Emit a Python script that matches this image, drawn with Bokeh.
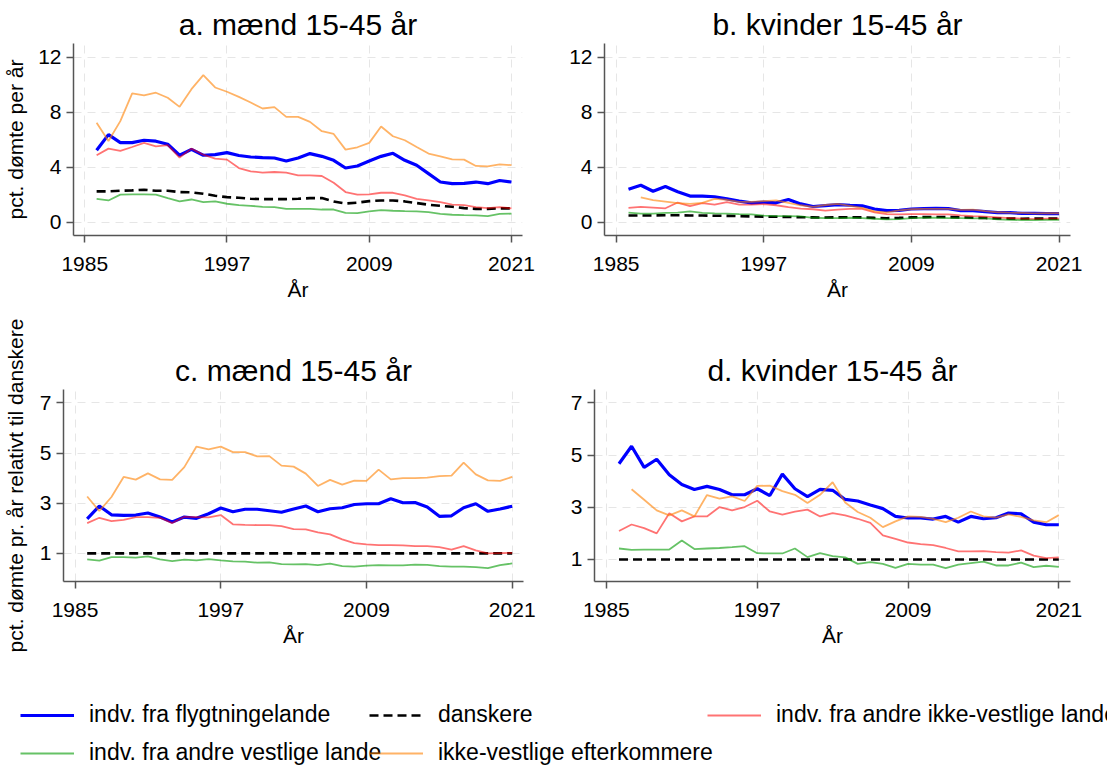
import math
from bokeh.plotting import figure
from bokeh.models import FixedTicker, Legend, LegendItem, Range1d
from bokeh.layouts import column, row
from bokeh.embed import file_html
from bokeh.resources import INLINE

NaN = float("nan")
years = list(range(1986, 2022))
x_ticks = [1985, 1997, 2009, 2021]
y_ticks_abs = [0, 4, 8, 12]
y_ticks_rel = [1, 3, 5, 7]

titles = ["a. mænd 15-45 år", "b. kvinder 15-45 år", "c. mænd 15-45 år", "d. kvinder 15-45 år"]
x_label = "År"
y_label_abs = "pct. dømte per år"
y_label_rel = "pct. dømte pr. år relativt til danskere"

labels = {
    "blue": "indv. fra flygtningelande",
    "black": "danskere",
    "red": "indv. fra andre ikke-vestlige lande",
    "green": "indv. fra andre vestlige lande",
    "orange": "ikke-vestlige efterkommere",
}

# panel a: men, pct convicted per year
a_blue = [5.23, 6.37, 5.79, 5.79, 5.96, 5.89, 5.67, 4.87, 5.30, 4.87, 4.91, 5.06,
          4.85, 4.74, 4.70, 4.67, 4.45, 4.67, 4.99, 4.79, 4.50, 3.94, 4.09, 4.45,
          4.79, 5.01, 4.50, 4.14, 3.53, 2.92, 2.80, 2.82, 2.92, 2.80, 3.03, 2.92]
a_black = [2.24, 2.24, 2.29, 2.31, 2.36, 2.29, 2.29, 2.19, 2.17, 2.07, 1.92, 1.82,
           1.78, 1.70, 1.68, 1.68, 1.68, 1.70, 1.75, 1.75, 1.51, 1.36, 1.42, 1.53,
           1.58, 1.58, 1.51, 1.39, 1.27, 1.19, 1.12, 1.02, 0.97, 0.97, 1.00, 1.00]
a_red = [4.87, 5.35, 5.18, 5.47, 5.77, 5.52, 5.60, 4.70, 5.35, 4.91, 4.62, 4.55,
         3.94, 3.70, 3.60, 3.65, 3.60, 3.40, 3.40, 3.36, 2.87, 2.19, 2.00, 2.02,
         2.14, 2.14, 1.95, 1.70, 1.58, 1.46, 1.27, 1.24, 1.10, 1.02, 1.10, 1.00]
a_green = [1.70, 1.58, 2.00, 2.02, 2.02, 2.00, 1.75, 1.51, 1.65, 1.46, 1.51, 1.34,
           1.24, 1.19, 1.12, 1.09, 0.97, 0.97, 0.97, 0.92, 0.92, 0.68, 0.66, 0.78,
           0.88, 0.83, 0.80, 0.78, 0.73, 0.61, 0.54, 0.51, 0.49, 0.44, 0.60, 0.62]
a_orange = [7.23, 5.91, 7.35, 9.37, 9.22, 9.42, 9.05, 8.39, 9.68, 10.70, 9.80, 9.49,
            9.12, 8.71, 8.27, 8.37, 7.66, 7.66, 7.30, 6.62, 6.42, 5.28, 5.45, 5.77,
            6.96, 6.25, 5.96, 5.47, 4.99, 4.79, 4.57, 4.55, 4.09, 4.06, 4.20, 4.15]

# panel b: women, pct convicted per year
b_blue = [2.40, 2.69, 2.25, 2.59, 2.22, 1.90, 1.90, 1.85, 1.70, 1.53, 1.41, 1.46,
          1.41, 1.65, 1.33, 1.14, 1.21, 1.28, 1.23, 1.19, 0.96, 0.84, 0.86, 0.96,
          0.99, 1.01, 0.99, 0.84, 0.84, 0.77, 0.69, 0.69, 0.64, 0.64, 0.62, 0.62]
b_black = [0.49, 0.49, 0.49, 0.50, 0.50, 0.49, 0.48, 0.47, 0.46, 0.44, 0.42, 0.40,
           0.39, 0.38, 0.36, 0.35, 0.34, 0.35, 0.36, 0.35, 0.31, 0.29, 0.31, 0.35,
           0.37, 0.38, 0.37, 0.35, 0.32, 0.30, 0.27, 0.26, 0.25, 0.26, 0.26, 0.26]
b_red = [1.04, 1.11, 1.06, 1.01, 1.43, 1.16, 1.38, 1.28, 1.46, 1.28, 1.28, 1.31,
         1.23, 1.09, 0.99, 0.94, 0.84, 0.91, 0.96, 0.96, 0.72, 0.59, 0.57, 0.59,
         0.59, 0.57, 0.57, 0.49, 0.44, 0.40, 0.35, 0.30, 0.25, 0.22, 0.25, 0.25]
b_green = [0.69, 0.62, 0.62, 0.67, 0.69, 0.79, 0.67, 0.64, 0.62, 0.59, 0.57, 0.47,
           0.44, 0.44, 0.42, 0.32, 0.30, 0.30, 0.32, 0.30, 0.25, 0.20, 0.22, 0.30,
           0.32, 0.32, 0.30, 0.30, 0.27, 0.27, 0.20, 0.17, 0.15, 0.15, 0.17, 0.17]
b_orange = [NaN, 1.80, 1.60, 1.50, 1.38, 1.33, 1.41, 1.70, 1.63, 1.48, 1.48, 1.53,
            1.58, 1.41, 1.23, 1.11, 1.25, 1.33, 1.19, 1.04, 0.79, 0.72, 0.86, 0.94,
            0.96, 0.96, 0.96, 0.89, 0.91, 0.81, 0.72, 0.69, 0.67, 0.64, 0.65, 0.65]

# panel c: men, relative to danes
c_blue = [2.38, 2.89, 2.54, 2.52, 2.53, 2.61, 2.45, 2.25, 2.45, 2.40, 2.58, 2.81,
          2.66, 2.76, 2.76, 2.70, 2.64, 2.77, 2.89, 2.66, 2.78, 2.82, 2.95, 2.98,
          2.98, 3.18, 3.02, 3.03, 2.85, 2.48, 2.50, 2.82, 2.98, 2.68, 2.77, 2.88]
c_black = [1.0] * 36
c_red = [2.21, 2.42, 2.29, 2.34, 2.45, 2.45, 2.42, 2.21, 2.46, 2.45, 2.44, 2.53,
         2.16, 2.14, 2.13, 2.13, 2.09, 1.97, 1.96, 1.84, 1.76, 1.56, 1.41, 1.36,
         1.33, 1.33, 1.32, 1.29, 1.29, 1.25, 1.15, 1.29, 1.12, 1.00, 1.01, 1.02]
c_green = [0.76, 0.71, 0.85, 0.85, 0.83, 0.88, 0.76, 0.69, 0.75, 0.72, 0.77, 0.72,
           0.68, 0.67, 0.63, 0.64, 0.57, 0.56, 0.57, 0.53, 0.59, 0.49, 0.47, 0.51,
           0.53, 0.52, 0.52, 0.55, 0.54, 0.49, 0.47, 0.47, 0.45, 0.41, 0.53, 0.60]
c_orange = [3.27, 2.69, 3.25, 4.05, 3.94, 4.19, 3.95, 3.93, 4.44, 5.26, 5.15, 5.26,
            5.04, 5.04, 4.87, 4.88, 4.50, 4.46, 4.18, 3.69, 3.93, 3.74, 3.90, 3.89,
            4.34, 3.95, 4.00, 4.00, 4.02, 4.08, 4.10, 4.62, 4.15, 3.91, 3.89, 4.05]

# panel d: women, relative to danes
d_blue = [4.67, 5.34, 4.53, 4.84, 4.25, 3.87, 3.68, 3.80, 3.68, 3.48, 3.48, 3.71,
          3.45, 4.27, 3.71, 3.41, 3.69, 3.65, 3.30, 3.24, 3.09, 2.95, 2.65, 2.59,
          2.59, 2.55, 2.65, 2.43, 2.65, 2.56, 2.60, 2.78, 2.75, 2.43, 2.33, 2.33]
d_black = [1.0] * 36
d_red = [2.09, 2.34, 2.20, 2.00, 2.77, 2.46, 2.65, 2.65, 3.01, 2.88, 3.01, 3.25,
         2.84, 2.72, 2.83, 2.91, 2.65, 2.78, 2.69, 2.56, 2.40, 1.92, 1.79, 1.65,
         1.59, 1.55, 1.44, 1.31, 1.31, 1.32, 1.28, 1.26, 1.35, 1.15, 1.05, 1.08]
d_green = [1.42, 1.37, 1.38, 1.38, 1.38, 1.73, 1.40, 1.42, 1.44, 1.47, 1.51, 1.24,
           1.23, 1.23, 1.42, 1.09, 1.24, 1.13, 1.08, 0.83, 0.90, 0.83, 0.68, 0.83,
           0.80, 0.80, 0.67, 0.80, 0.86, 0.92, 0.77, 0.77, 0.88, 0.71, 0.76, 0.72]
d_orange = [NaN, 3.69, 3.29, 2.88, 2.69, 2.88, 2.65, 3.47, 3.33, 3.42, 3.24, 3.82,
            3.83, 3.62, 3.48, 3.16, 3.48, 3.96, 3.18, 2.82, 2.60, 2.24, 2.46, 2.65,
            2.63, 2.56, 2.43, 2.60, 2.84, 2.65, 2.60, 2.73, 2.63, 2.50, 2.43, 2.70]

FONT = "Liberation Sans"
STYLES = {
    "blue": dict(line_color="#0000ff", line_width=3.2, line_alpha=1.0),
    "black": dict(line_color="#000000", line_width=2.6, line_dash="9 5"),
    "red": dict(line_color="#ff0000", line_width=1.8, line_alpha=0.55),
    "green": dict(line_color="#009900", line_width=1.8, line_alpha=0.6),
    "orange": dict(line_color="#ff8000", line_width=1.8, line_alpha=0.6),
}
ORDER = ["blue", "black", "red", "green", "orange"]


def make_panel(title, series, yr, yticks, ylabel, fw, bl, br, bt, bb, ylab_standoff):
    p = figure(frame_width=fw, frame_height=192, min_border_left=bl, min_border_right=br,
               min_border_top=bt, min_border_bottom=bb,
               x_range=Range1d(1984.05, 2021.93), y_range=Range1d(*yr),
               toolbar_location=None, output_backend="svg", title=title)
    p.outline_line_color = None
    p.background_fill_color = "white"
    p.title.text_font = FONT
    p.title.text_font_size = "30px"
    p.title.text_font_style = "normal"
    p.title.align = "center"
    p.title.text_color = "#000000"
    p.title.standoff = 6
    p.xaxis.ticker = FixedTicker(ticks=x_ticks)
    p.yaxis.ticker = FixedTicker(ticks=yticks)
    for ax in (p.xaxis[0], p.yaxis[0]):
        ax.axis_line_color = "#555555"
        ax.axis_line_width = 1.5
        ax.major_tick_line_color = "#555555"
        ax.major_tick_line_width = 1.5
        ax.major_tick_in = 0
        ax.major_tick_out = 7
        ax.minor_tick_line_color = None
        ax.major_label_text_font = FONT
        ax.major_label_text_font_size = "21px"
        ax.major_label_text_color = "#000000"
        ax.axis_label_text_font = FONT
        ax.axis_label_text_font_size = "21px"
        ax.axis_label_text_font_style = "normal"
        ax.axis_label_text_color = "#000000"
    p.xaxis.major_label_standoff = 14
    p.yaxis.major_label_standoff = 5
    p.xaxis.axis_label = x_label
    p.xaxis.axis_label_standoff = 4
    if ylabel:
        p.yaxis.axis_label = ylabel
        p.yaxis.axis_label_standoff = ylab_standoff
    p.grid.grid_line_color = "#e6e6e6"
    p.grid.grid_line_dash = "8 6"
    p.grid.grid_line_width = 1
    for key in ORDER:
        p.line(years, series[key], **STYLES[key])
    return p


pa = make_panel(titles[0], dict(blue=a_blue, black=a_black, red=a_red, green=a_green, orange=a_orange),
                (-0.97, 13.0), y_ticks_abs, y_label_abs, 449, 73, 18, 43, 70, 8)
pb = make_panel(titles[1], dict(blue=b_blue, black=b_black, red=b_red, green=b_green, orange=b_orange),
                (-0.97, 13.0), y_ticks_abs, None, 466, 64, 37, 43, 70, 5)
pc = make_panel(titles[2], dict(blue=c_blue, black=c_black, red=c_red, green=c_green, orange=c_orange),
                (-0.12, 7.535), y_ticks_rel, y_label_rel, 460, 63, 17, 84, 99, 10)
pd_ = make_panel(titles[3], dict(blue=d_blue, black=d_black, red=d_red, green=d_green, orange=d_orange),
                 (0.156, 7.514), y_ticks_rel, None, 476, 54, 37, 84, 99, 5)

# legend strip (legend glyphs taken from off-screen sample renderers)
lg = figure(width=1107, height=87, x_range=Range1d(0, 1107), y_range=Range1d(0, 87),
            toolbar_location=None, output_backend="svg", min_border=0)
lg.outline_line_color = None
lg.axis.visible = False
lg.grid.visible = False
positions = {"blue": (20, 39), "black": (369, 39), "red": (707, 39),
             "green": (20, 1), "orange": (369, 1)}
for key in ORDER:
    r = lg.line([-50, -40], [-50, -50], **STYLES[key])
    leg = Legend(items=[LegendItem(label=labels[key], renderers=[r])], location=positions[key],
                 glyph_width=54, glyph_height=20, label_height=20, label_standoff=15,
                 label_text_font=FONT, label_text_font_size="23px", label_text_color="#000000",
                 padding=0, margin=0, spacing=0, border_line_alpha=0, background_fill_alpha=0)
    lg.add_layout(leg)

layout = column(row(pa, pb), row(pc, pd_), lg)
open("out.html", "w").write(file_html(layout, INLINE))
